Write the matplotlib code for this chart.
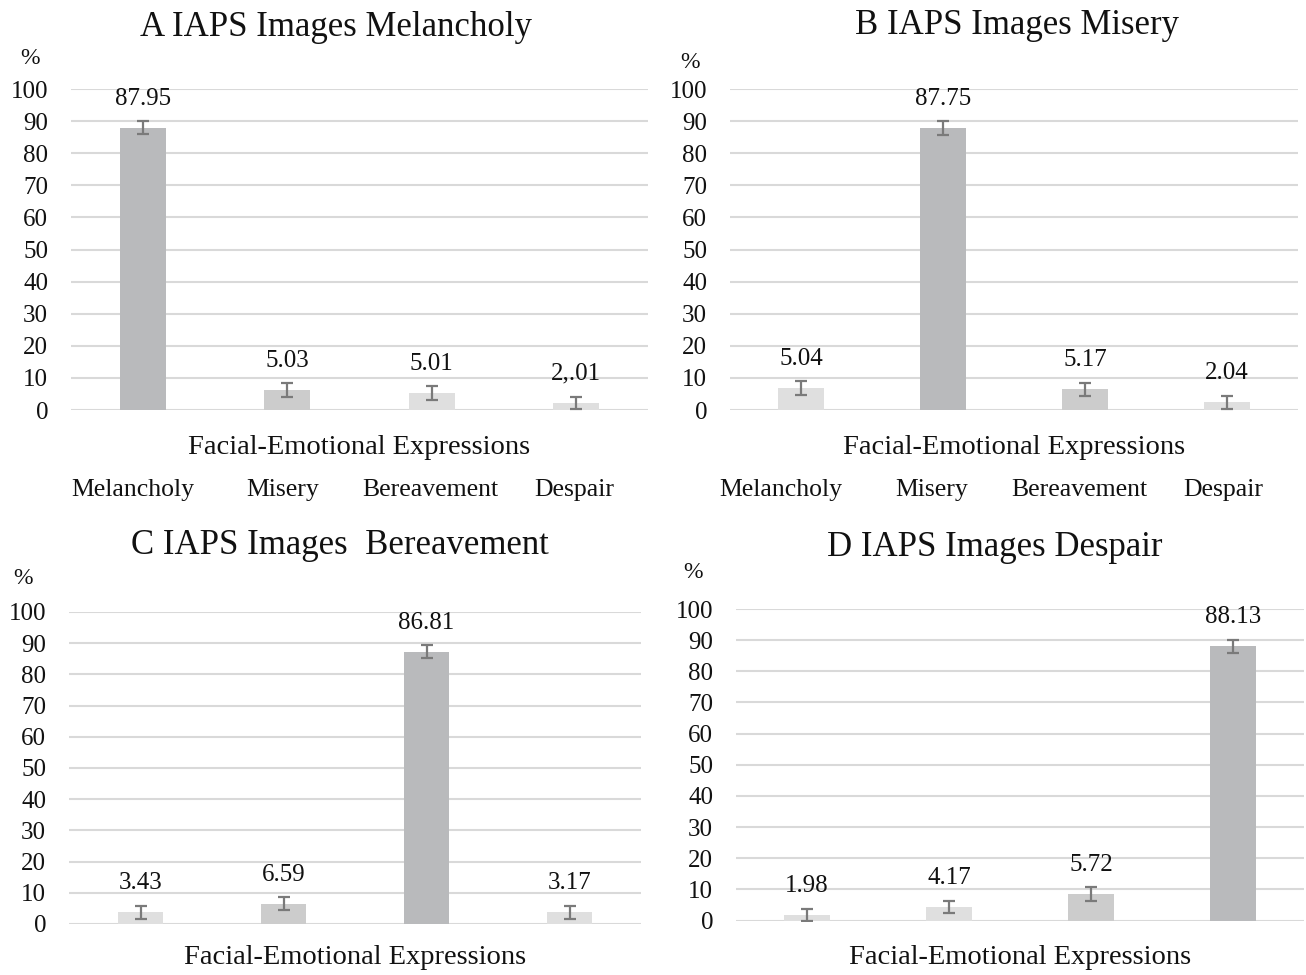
import matplotlib
matplotlib.use("Agg")
import matplotlib.pyplot as plt

plt.rcParams['font.family'] = ['Liberation Serif', 'DejaVu Serif']

categories = ["Melancholy", "Misery", "Bereavement", "Despair"]
titles = ["A IAPS Images Melancholy", "B IAPS Images Misery",
          "C IAPS Images  Bereavement", "D IAPS Images Despair"]

# bar heights as drawn
heights_A = [88.0, 6.2, 5.3, 2.2]
heights_B = [6.8, 87.8, 6.4, 2.4]
heights_C = [3.7, 6.5, 87.2, 3.7]
heights_D = [1.9, 4.4, 8.5, 88.0]

# error half-widths
err_A = [2.1, 2.1, 2.1, 1.9]
err_B = [2.1, 2.1, 2.1, 2.0]
err_C = [2.1, 2.1, 2.1, 2.1]
err_D = [1.9, 2.0, 2.1, 2.0]

# value labels as printed
labels_A = ["87.95", "5.03", "5.01", "2,.01"]
labels_B = ["5.04", "87.75", "5.17", "2.04"]
labels_C = ["3.43", "6.59", "86.81", "3.17"]
labels_D = ["1.98", "4.17", "5.72", "88.13"]

yticks = [0, 10, 20, 30, 40, 50, 60, 70, 80, 90, 100]

DARK, MED, LIGHT = "#b9babc", "#cccccc", "#dfdfdf"
shades_A = [DARK, MED, LIGHT, LIGHT]
shades_B = [LIGHT, DARK, MED, LIGHT]
shades_C = [LIGHT, MED, DARK, LIGHT]
shades_D = [LIGHT, LIGHT, MED, DARK]

W, H = 1306, 975
fig = plt.figure(figsize=(W / 100, H / 100), dpi=100)

# (left, right, y_of_0, y_of_100) in pixels
boxes = [(71, 648, 410, 89), (730, 1298, 410, 89),
         (69, 641, 924, 612), (736, 1304, 920.5, 609)]
title_pos = [(336, 27), (1017, 25), (340, 545), (995, 547)]
pct_pos = [(30, 58), (690, 62), (23, 578), (693, 573)]
xlabel_y = [448, 448, 957, 957]

panels = [
    (heights_A, err_A, labels_A, shades_A, True, [-0.07, -0.03, -0.01, -0.01]),
    (heights_B, err_B, labels_B, shades_B, True, [-0.14, -0.08, -0.04, -0.025]),
    (heights_C, err_C, labels_C, shades_C, False, None),
    (heights_D, err_D, labels_D, shades_D, False, None),
]

for i, (hts, errs, labs, cols, show_cats, cat_off) in enumerate(panels):
    l, r, y0, y100 = boxes[i]
    ax = fig.add_axes([l / W, 1 - y0 / H, (r - l) / W, (y0 - y100) / H])
    x = list(range(len(categories)))
    ax.bar(x, hts, width=0.32, color=cols, zorder=2)
    ax.errorbar(x, hts, yerr=errs, fmt='none', ecolor='#7a7a7a',
                elinewidth=1.6, capsize=4.5, capthick=1.6, zorder=3)
    for xi, h, lab in zip(x, hts, labs):
        ax.annotate(lab, (xi, h), xytext=(0, 18), textcoords='offset pixels',
                    ha='center', va='bottom', fontsize=18, color='#111111')
    ax.set_xlim(-0.5, 3.5)
    ax.set_ylim(0, 100)
    ax.set_yticks(yticks)
    ax.yaxis.grid(True, color='#d9d9d9', linewidth=1.5, zorder=0)
    ax.set_axisbelow(True)
    ax.set_xticks([])
    for s in ax.spines.values():
        s.set_visible(False)
    ax.tick_params(axis='y', length=0, pad=16.5, labelsize=18, labelcolor='#111111')
    cx = (l + r) / 2
    fig.text(cx / W, 1 - xlabel_y[i] / H, "Facial-Emotional Expressions",
             ha='center', va='center', fontsize=20.5, color='#111111')
    if show_cats:
        for xi, c, off in zip(x, categories, cat_off):
            ax.text(xi + off, -25, c, ha='center', va='center', fontsize=18.5,
                    color='#111111', clip_on=False)
    tx, ty = title_pos[i]
    fig.text(tx / W, 1 - ty / H, titles[i], ha='center', va='center',
             fontsize=25, color='#111111')
    px, py = pct_pos[i]
    fig.text(px / W, 1 - py / H, "%", ha='center', va='center',
             fontsize=17, color='#111111')

fig.savefig("out.png", dpi=100, facecolor='white')
